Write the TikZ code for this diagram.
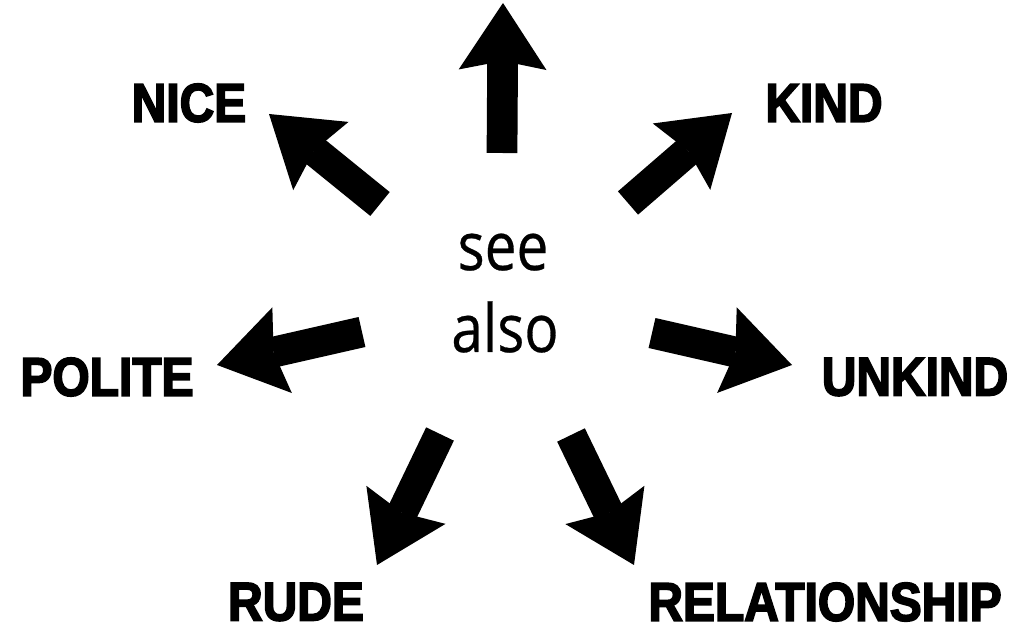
\documentclass[tikz,border=0pt]{standalone}
\usepackage{fontspec}
\usepackage{tikz}
\usetikzlibrary{arrows.meta, calc, positioning}
\newfontfamily\heavyfont{Liberation Sans}[FakeStretch=0.88, BoldFeatures={FakeBold=3}]
\newfontfamily\plainsans{Open Sans}[FakeStretch=0.85, FakeBold=0.4]

\begin{document}
\begin{tikzpicture}[x=0.02cm, y=-0.02cm,
	fatarrow/.style={line width=17.5pt,
		-{Stealth[length=38pt, width=50pt, inset=5pt, line width=0pt]}},
	wordlabel/.style={inner sep=0pt,
		font=\heavyfont\bfseries\fontsize{31}{31}\selectfont},
	centreword/.style={inner sep=0pt, anchor=base,
		font=\plainsans\fontsize{38}{46}\selectfont}]
				\useasboundingbox (0,0) rectangle (1025,631);
				% centre words
				\node[centreword] (seeword) at (503,270) {see};
				\node[centreword] (alsoword) at (505,352) {also};
				% the six labels round it
				\node[wordlabel] (nice) at (189,103) {NICE};
				\node[wordlabel] (kind) at (824,103) {KIND};
				\node[wordlabel] (polite) at (107,377) {POLITE};
				\node[wordlabel] (unkind) at (915,377) {UNKIND};
				\node[wordlabel] (rude) at (296,602) {RUDE};
				\node[wordlabel] (relationship) at (825,602) {RELATIONSHIP};
				% arrow ends
				\coordinate (upTail) at (502,153);
				\coordinate (upTip) at (503,3);
				\coordinate (niceTail) at (380,204);
				\coordinate (niceTip) at (269,114);
				\coordinate (kindTail) at (628,203);
				\coordinate (kindTip) at (732,113);
				\coordinate (politeTail) at (362,332);
				\coordinate (politeTip) at (217,365);
				\coordinate (unkindTail) at (652,333);
				\coordinate (unkindTip) at (792,365);
				\coordinate (rudeTail) at (440,434);
				\coordinate (rudeTip) at (377,565);
				\coordinate (relTail) at (571,435);
				\coordinate (relTip) at (634,565);
				% arrows out from the centre
				\draw[fatarrow] (upTail) -- (upTip);
				\draw[fatarrow] (niceTail) -- (niceTip);
				\draw[fatarrow] (kindTail) -- (kindTip);
				\draw[fatarrow] (politeTail) -- (politeTip);
				\draw[fatarrow] (unkindTail) -- (unkindTip);
				\draw[fatarrow] (rudeTail) -- (rudeTip);
				\draw[fatarrow] (relTail) -- (relTip);
			\end{tikzpicture}
\end{document}
